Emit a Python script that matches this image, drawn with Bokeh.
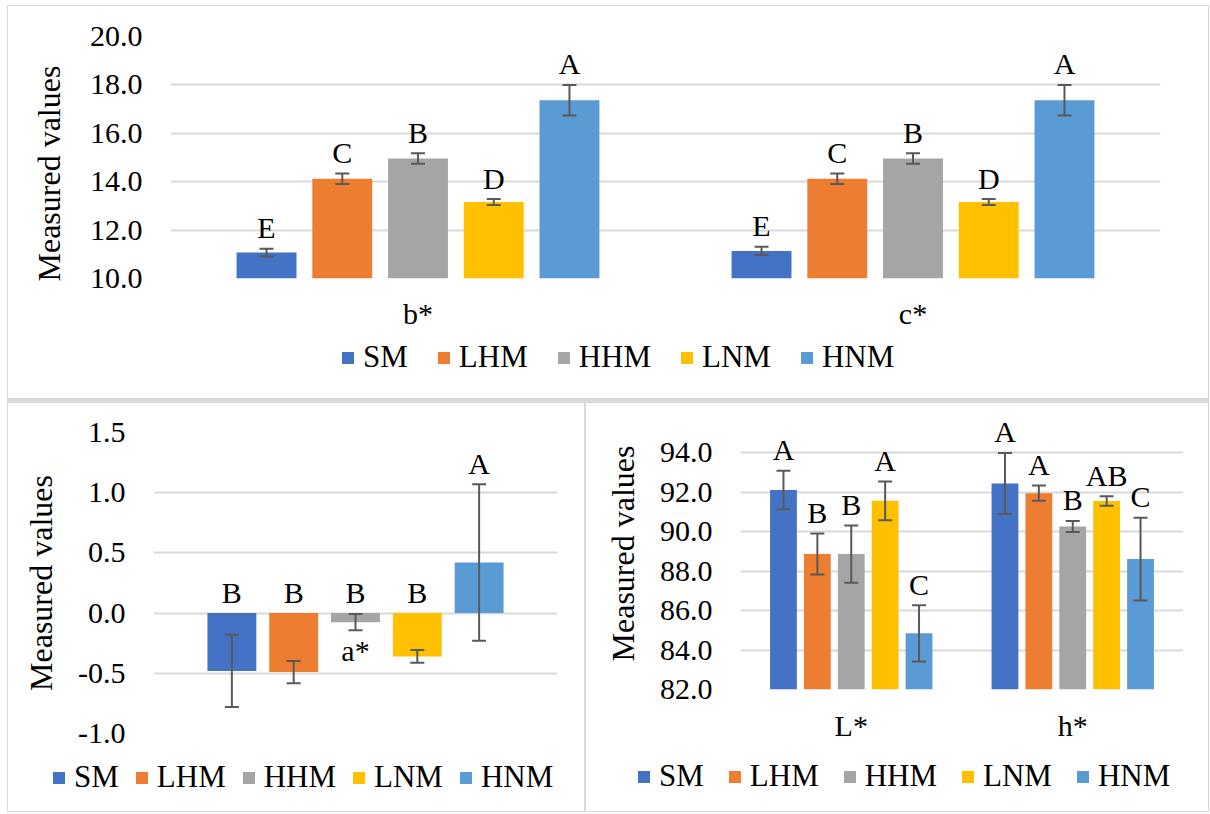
from bokeh.plotting import figure
from bokeh.models import (ColumnDataSource, FactorRange, Range1d, Whisker, TeeHead,
                          Legend, LegendItem, FixedTicker, PrintfTickFormatter, Title)
from bokeh.transform import dodge
from bokeh.core.properties import value
from bokeh.layouts import column, row
from bokeh.embed import file_html
from bokeh.resources import INLINE

# ---------------- data ----------------
groups = ["SM", "LHM", "HHM", "LNM", "HNM"]
colors = ["#4472C4", "#ED7D31", "#A5A5A5", "#FFC000", "#5B9BD5"]

top_cats = ["b*", "c*"]
b_mean = [11.07, 14.12, 14.96, 13.16, 17.37]
b_sd = [0.16, 0.22, 0.22, 0.12, 0.63]
b_letters = ["E", "C", "B", "D", "A"]
c_mean = [11.14, 14.12, 14.96, 13.16, 17.37]
c_sd = [0.17, 0.22, 0.22, 0.12, 0.63]
c_letters = ["E", "C", "B", "D", "A"]
top_ticks = [10.0, 12.0, 14.0, 16.0, 18.0, 20.0]

a_cats = ["a*"]
a_mean = [-0.48, -0.49, -0.075, -0.36, 0.42]
a_sd = [0.30, 0.093, 0.067, 0.053, 0.65]
a_letters = ["B", "B", "B", "B", "A"]
a_ticks = [-1.0, -0.5, 0.0, 0.5, 1.0, 1.5]

lh_cats = ["L*", "h*"]
L_mean = [92.12, 88.87, 88.87, 91.57, 84.85]
L_sd = [0.98, 1.04, 1.45, 0.98, 1.43]
L_letters = ["A", "B", "B", "A", "C"]
h_mean = [92.45, 91.96, 90.27, 91.56, 88.62]
h_sd = [1.55, 0.39, 0.28, 0.24, 2.10]
h_letters = ["A", "A", "B", "AB", "C"]
lh_ticks = [82.0, 84.0, 86.0, 88.0, 90.0, 92.0, 94.0]

# ---------------- style ----------------
FONT = "Liberation Serif"
ERR = "#595959"
GRID = "#d9d9d9"
PITCH = 0.153
BAR_W = 0.121
YTITLE = "Measured values"


def make_panel(cats, means, sds, letters, ticks, base, y_top, w, h, borders,
               xaxis=True, xstandoff=18, inline_cat=False, title_shift=None):
    p = figure(x_range=FactorRange(*cats), y_range=Range1d(ticks[0], y_top),
               width=w, height=h, output_backend="svg", toolbar_location=None,
               x_axis_location="below" if xaxis else None,
               min_border_left=borders[0], min_border_right=borders[1],
               min_border_top=borders[2], min_border_bottom=borders[3])
    p.frame_align = False
    p.outline_line_color = None
    p.background_fill_color = "white"
    p.border_fill_color = "white"
    p.xgrid.grid_line_color = None
    p.ygrid.grid_line_color = GRID
    p.ygrid.grid_line_width = 2
    p.ygrid.ticker = FixedTicker(ticks=ticks)

    ya = p.yaxis[0]
    ya.ticker = FixedTicker(ticks=ticks)
    ya.formatter = PrintfTickFormatter(format="%.1f")
    ya.axis_line_color = None
    ya.major_tick_line_color = None
    ya.minor_tick_line_color = None
    ya.major_tick_out = 0
    ya.major_tick_in = 0
    ya.major_label_standoff = 28
    ya.major_label_text_font = FONT
    ya.major_label_text_font_size = "30px"
    ya.major_label_text_color = "black"
    if title_shift is None:
        ya.axis_label = YTITLE
        ya.axis_label_text_font = FONT
        ya.axis_label_text_font_size = "32px"
        ya.axis_label_text_font_style = "normal"
        ya.axis_label_text_color = "black"
        ya.axis_label_standoff = 16
    else:
        p.add_layout(Title(text=YTITLE, align="left", offset=title_shift,
                           standoff=40, text_font=FONT, text_font_size="32px",
                           text_font_style="normal", text_color="black"), "left")

    if xaxis:
        xa = p.xaxis[0]
        xa.axis_line_color = None
        xa.major_tick_line_color = None
        xa.minor_tick_line_color = None
        xa.major_tick_out = 0
        xa.major_tick_in = 0
        xa.major_label_standoff = xstandoff
        xa.major_label_text_font = FONT
        xa.major_label_text_font_size = "30px"
        xa.major_label_text_color = "black"

    for i, g in enumerate(groups):
        m = [means[c][i] for c in range(len(cats))]
        s = [sds[c][i] for c in range(len(cats))]
        lab = [letters[c][i] for c in range(len(cats))]
        up = [a + b for a, b in zip(m, s)]
        lo = [a - b for a, b in zip(m, s)]
        ly = [max(u, base) for u in up]
        src = ColumnDataSource(dict(x=list(cats), top=m, upper=up, lower=lo, lab=lab, ly=ly))
        off = (i - 2) * PITCH
        p.vbar(x=dodge("x", off, range=p.x_range), top="top", bottom=base,
               width=BAR_W, source=src, fill_color=colors[i], line_color=None)
        wk = Whisker(base=dodge("x", off, range=p.x_range), upper="upper", lower="lower",
                     source=src, line_color=ERR, line_width=2, level="overlay",
                     upper_head=TeeHead(size=14, line_color=ERR, line_width=2),
                     lower_head=TeeHead(size=14, line_color=ERR, line_width=2))
        p.add_layout(wk)
        p.text(x=dodge("x", off, range=p.x_range), y="ly", text="lab", source=src,
               text_font=value(FONT), text_font_size="30px", text_align="center",
               text_baseline="middle", y_offset=-21, text_color="black")

    if inline_cat:
        csrc = ColumnDataSource(dict(x=list(cats), y=[0.0] * len(cats), t=list(cats)))
        p.text(x="x", y="y", text="t", source=csrc, text_font=value(FONT),
               text_font_size="30px", text_align="center", text_baseline="middle",
               y_offset=37, text_color="black")
    return p


def make_legend(w, h, loc, spacing):
    p = figure(width=w, height=h, x_range=Range1d(0, 1), y_range=Range1d(0, 1),
               output_backend="svg", toolbar_location=None,
               x_axis_location=None, y_axis_location=None, min_border=0)
    p.frame_align = False
    p.outline_line_color = None
    p.grid.grid_line_color = None
    p.background_fill_color = "white"
    p.border_fill_color = "white"
    items = []
    for g, c in zip(groups, colors):
        # swatch renderer kept outside the visible range; only its legend entry shows
        r = p.vbar(x=[5.0], top=[5.0], bottom=[4.0], width=0.1, fill_color=c, line_color=None)
        items.append(LegendItem(label=g, renderers=[r]))
    leg = Legend(items=items, location=loc, orientation="horizontal",
                 glyph_width=15, glyph_height=15, label_standoff=8,
                 spacing=spacing, padding=0, margin=0,
                 border_line_color=None, background_fill_alpha=0,
                 label_text_font=FONT, label_text_font_size="31px",
                 label_text_color="black")
    p.add_layout(leg)
    return p


p_top = make_panel(top_cats, [b_mean, c_mean], [b_sd, c_sd], [b_letters, c_letters],
                   top_ticks, top_ticks[0], top_ticks[-1], 1200, 334, (160, 48, 30, 62),
                   xstandoff=18, title_shift=-3)
l_top = make_legend(1200, 58, (332, 23), 28)

p_a = make_panel(a_cats, [a_mean], [a_sd], [a_letters], a_ticks, 0.0, a_ticks[-1],
                 576, 350, (145, 27, 29, 20), xaxis=False, inline_cat=True)
l_a = make_legend(576, 58, (43, 16), 15)

p_lh = make_panel(lh_cats, [L_mean, h_mean], [L_sd, h_sd], [L_letters, h_letters],
                  lh_ticks, lh_ticks[0], 95.8, 622, 350, (154, 25, 14, 64), xstandoff=19)
l_lh = make_legend(622, 58, (50, 17), 23)

WHITE = {"background-color": "white"}
layout = column(
    column(p_top, l_top, spacing=0, styles=WHITE),
    row(column(p_a, l_a, spacing=0, styles=WHITE),
        column(p_lh, l_lh, spacing=0, styles=WHITE), spacing=2),
    spacing=5,
    styles={"background-color": "#d9d9d9", "padding": "1px",
            "margin-left": "7px", "margin-top": "5px"})

open("out.html", "w").write(file_html(layout, INLINE))
